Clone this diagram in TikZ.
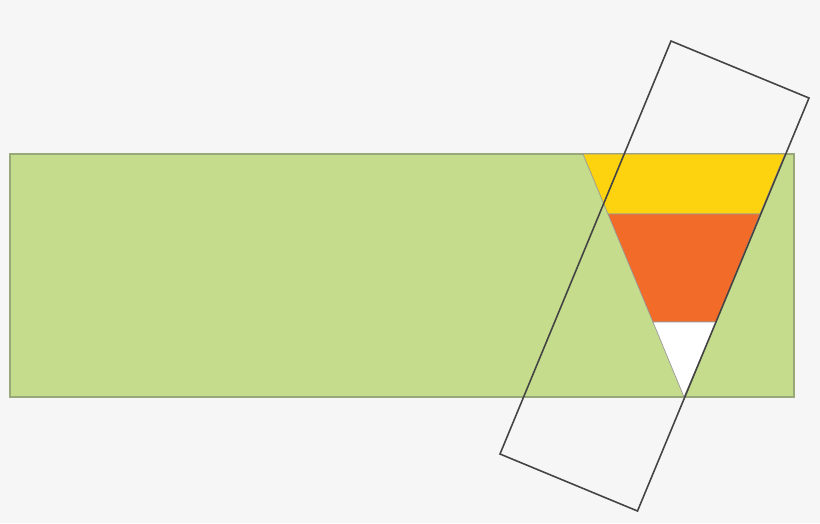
\documentclass[tikz,border=0pt]{standalone}
\usepackage{tikz}
\usetikzlibrary{positioning}
\definecolor{bgcol}{HTML}{F6F6F6}
\definecolor{leafgreen}{HTML}{C4DC8C}
\definecolor{leafedge}{HTML}{98A878}
\definecolor{cornyellow}{HTML}{FDD20E}
\definecolor{cornorange}{HTML}{F26B29}
\definecolor{frameline}{HTML}{444444}

\begin{document}
\begin{tikzpicture}[x=0.01cm,y=-0.01cm,
    band/.style={draw=gray!80, line width=0.2pt},
    slip/.style={draw=frameline, line width=0.45pt, line join=miter}]
    \fill[bgcol] (0,0) rectangle (820,523);
    \useasboundingbox (0,0) rectangle (820,523);
    \filldraw[fill=leafgreen, draw=leafedge, line width=0.3pt] (10,154) rectangle (794,397);
    % candy corn bands
    \filldraw[band, fill=cornyellow] (583,154) -- (785,154) -- (760,214) -- (608,214) -- cycle;
    \filldraw[band, fill=cornorange] (608,214) -- (760,214) -- (716,322) -- (653,322) -- cycle;
    \filldraw[band, fill=white] (653,322) -- (716,322) -- (684,397) -- cycle;
    % \draw[red] (583,154) -- (684,397);
    \draw[slip] (671,41) -- (809,98) -- (637.5,511) -- (500,454) -- cycle;
\end{tikzpicture}
\end{document}
